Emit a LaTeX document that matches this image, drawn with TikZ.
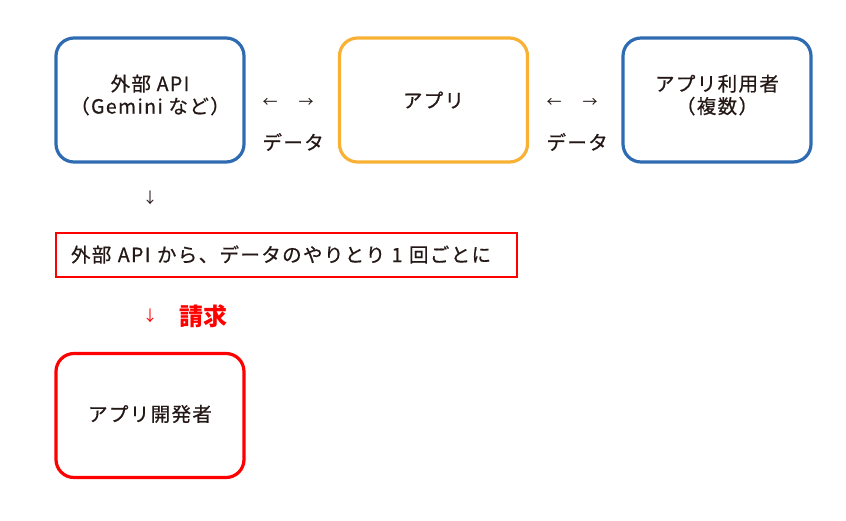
\documentclass[tikz,border=0pt]{standalone}
\usepackage{fontspec}
\setmainfont{Noto Sans CJK JP}
\newfontfamily\moyen[FakeBold=0.6, LetterSpace=7]{Noto Sans CJK JP}
\usetikzlibrary{positioning}

\definecolor{bleu}{HTML}{2E6BB2}
\definecolor{jaune}{HTML}{F8B035}
\definecolor{rouge}{HTML}{FF0000}
\definecolor{encre}{HTML}{231815}

\tikzset{
  cadre/.style={draw=#1, rounded corners=18pt, line width=3.2pt,
    minimum width=188pt, minimum height=124pt},
  texte/.style={text=encre, align=center,
    font=\moyen\fontsize{19.5}{22.5}\selectfont},
  fleche/.style={text=encre, font=\fontsize{15}{18}\selectfont},
}

\begin{document}
\begin{tikzpicture}[x=1pt,y=-1pt]
    \useasboundingbox (0,0) rectangle (846,520);

    % --- Les trois cadres du haut ---
    \node[cadre=bleu]  (api)  at (150,100)   {};
    \node[cadre=jaune] (app)  at (433.5,100) {};
    \node[cadre=bleu]  (user) at (717,100)   {};

    % --- Textes des cadres ---
    \node[texte] (apitxt)  at (150,95)   {外部 API\\（Gemini など）};
    \node[texte] (apptxt)  at (433.5,100) {アプリ};
    \node[texte] (usertxt) at (717,95)   {アプリ利用者\\（複数）};

    % --- Échanges de données ---
    \foreach \n/\x in {g/259, d/543}{
        \node[fleche, anchor=west] (fl\n) at (\x,103) {←\hspace{21pt}→};
        \node[texte, anchor=west] (data\n) at (\x,142) {データ};
    }

    % --- Règle de facturation ---
    \node[fleche] (bas) at (150,198) {↓};
    \node[draw=rouge, line width=2pt, anchor=west, texte,
          text width=431pt, align=left, inner xsep=15pt,
          minimum height=44pt] (regle) at (55,254.5)
          {外部 API から、データのやりとり 1 回ごとに};

    \node[fleche, text=rouge] (bas2) at (150,316) {↓};
    \node[text=rouge, anchor=west, font=\fontsize{24}{26}\selectfont\bfseries]
          (cout) at (176,316) {請求};

    % --- Développeur ---
    \node[cadre=rouge] (dev) at (150,415.5) {};
    \node[texte] (devtxt) at (150,414) {アプリ開発者};
\end{tikzpicture}
\end{document}
